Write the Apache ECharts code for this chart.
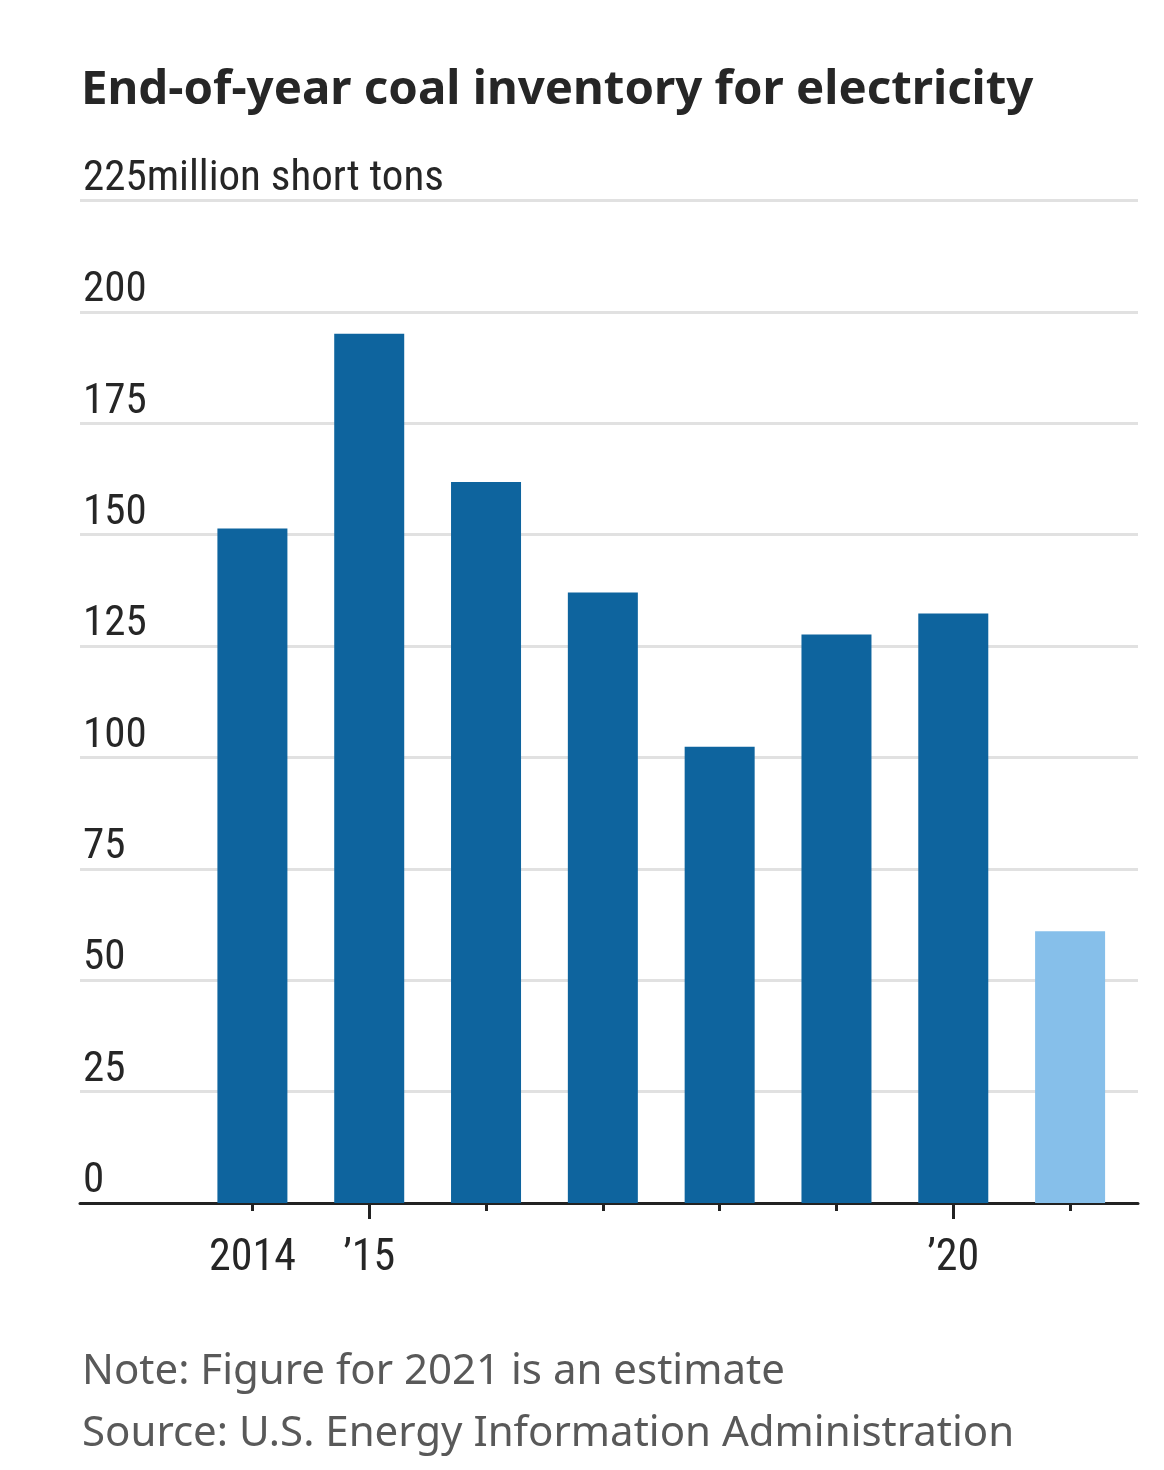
<!DOCTYPE html>
<html>
<head>
<meta charset="utf-8">
<script src="https://cdn.jsdelivr.net/npm/echarts@6/dist/echarts.min.js"></script>
<style>
html,body{margin:0;padding:0;background:#fff;}
#chart{width:1164px;height:1470px;}
</style>
</head>
<body>
<div id="chart"></div>
<script>
// ---- data ----
var categories = ['2014', '2015', '2016', '2017', '2018', '2019', '2020', '2021'];
var inventory = [151.4, 195.1, 161.8, 137.0, 102.4, 127.6, 132.3, 61.0];
var isEstimate = [false, false, false, false, false, false, false, true];
var xTickLabels = ['2014', '\u201915', '', '', '', '', '\u201920', ''];
var yTicks = [0, 25, 50, 75, 100, 125, 150, 175, 200, 225];
var yUnit = 'million short tons';
var titleText = 'End-of-year coal inventory for electricity';
var noteText = 'Note: Figure for 2021 is an estimate';
var sourceText = 'Source: U.S. Energy Information Administration';

var condensed = '"Roboto Condensed", "Liberation Sans Narrow", sans-serif';
var sans = '"Noto Sans", "Open Sans", sans-serif';

var chart = echarts.init(document.getElementById('chart'));
var yMin = yTicks[0], yMax = yTicks[yTicks.length - 1], yStep = yTicks[1] - yTicks[0];

chart.setOption({
  animation: false,
  backgroundColor: '#ffffff',
  title: {
    text: titleText,
    left: 81,
    top: 67,
    padding: 0,
    textStyle: { fontFamily: sans, fontWeight: 'bold', fontSize: 47.4, color: '#262626' }
  },
  grid: [
    { left: 80, right: 26, top: 200.5, bottom: 1470 - 1203, containLabel: false },
    { left: 194, right: 1164 - 1128.5, top: 200.5, bottom: 1470 - 1203, containLabel: false }
  ],
  xAxis: [
    {
      gridIndex: 0, type: 'value', min: 0, max: 1,
      axisLine: { show: true, lineStyle: { color: '#222', width: 3 } },
      axisTick: { show: false }, axisLabel: { show: false }, splitLine: { show: false }
    },
    {
      gridIndex: 1, type: 'category', data: categories, position: 'bottom',
      axisLine: { show: false },
      axisTick: { show: true, alignWithLabel: true, length: 8, lineStyle: { color: '#222', width: 3 } },
      axisLabel: {
        show: true, interval: 0, margin: 34,
        fontFamily: condensed, fontSize: 44, color: '#262626',
        formatter: function (v, i) { return xTickLabels[i]; }
      },
      splitLine: { show: false }
    },
    {
      gridIndex: 1, type: 'category', data: categories, position: 'bottom',
      axisLine: { show: false },
      axisTick: {
        show: true, alignWithLabel: true, length: 16,
        interval: function (i) { return categories[i] % 5 === 0; },
        lineStyle: { color: '#222', width: 3 }
      },
      axisLabel: { show: false }, splitLine: { show: false }
    }
  ],
  yAxis: [
    {
      gridIndex: 0, type: 'value', min: yMin, max: yMax, interval: yStep,
      position: 'left',
      axisLine: { show: false }, axisTick: { show: false },
      splitLine: { show: true, lineStyle: { color: '#e1e1e1', width: 3 } },
      axisLabel: {
        show: true, inside: true, margin: 3, align: 'left', verticalAlign: 'bottom',
        padding: [0, 0, 0, 0],
        fontFamily: condensed, fontSize: 43, color: '#262626',
        formatter: function (v) { return v === yMax ? v + yUnit : String(v); }
      }
    },
    {
      gridIndex: 1, type: 'value', min: yMin, max: yMax, interval: yStep, show: false
    }
  ],
  series: [
    {
      type: 'bar', xAxisIndex: 1, yAxisIndex: 1, barWidth: 70,
      data: inventory.map(function (v, i) {
        return { value: v, itemStyle: { color: isEstimate[i] ? '#86bfea' : '#0e649e' } };
      }),
      z: 3
    }
  ],
  graphic: [
    { type: 'text', left: 82, top: 1351, style: { text: noteText, font: '42px ' + sans, fill: '#595959' } },
    { type: 'text', left: 82, top: 1413, style: { text: sourceText, font: '42px ' + sans, fill: '#595959' } }
  ]
});
</script>
</body>
</html>
